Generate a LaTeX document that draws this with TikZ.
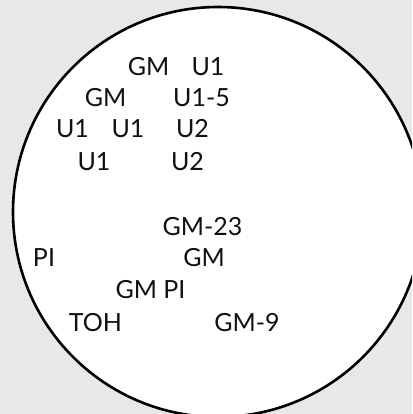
\documentclass[tikz,border=0pt]{standalone}
\usepackage{fontspec}
\setmainfont{Lato}
\definecolor{bgcol}{RGB}{232,232,232}
\definecolor{txtcol}{RGB}{17,17,17}
\begin{document}
\begin{tikzpicture}[x=1pt,y=-1pt,
  lbl/.style={anchor=base,inner sep=0pt,text=txtcol,font=\fontsize{25}{30}\selectfont},
  ring/.style={draw=black,fill=white,line width=2.6pt}]
\useasboundingbox (0,0) rectangle (412,414);
\clip (0,0) rectangle (412,414);
\fill[bgcol] (0,0) rectangle (412,414);
\node[ring,circle,minimum size=410pt,inner sep=0pt] (disk) at (218,212) {};
\node[lbl] (t1) at (148.5,75.5) {GM};
\node[lbl] (t2) at (208,75.5) {U1};
\node[lbl] (t3) at (105.5,107) {GM};
\node[lbl] (t4) at (201.5,107) {U1-5};
\node[lbl] (t5) at (72.5,138) {U1};
\node[lbl] (t6) at (128,138) {U1};
\node[lbl] (t7) at (192.5,138) {U2};
\node[lbl] (t8) at (94,170.5) {U1};
\node[lbl] (t9) at (187.5,170.5) {U2};
\node[lbl] (t10) at (202.5,235) {GM-23};
\node[lbl] (t11) at (44,266.5) {PI};
\node[lbl] (t12) at (204,266.5) {GM};
\node[lbl] (t13) at (150.5,298) {GM PI};
\node[lbl] (t14) at (95.5,331.5) {TOH};
\node[lbl] (t15) at (247,331.5) {GM-9};
\end{tikzpicture}
\end{document}
